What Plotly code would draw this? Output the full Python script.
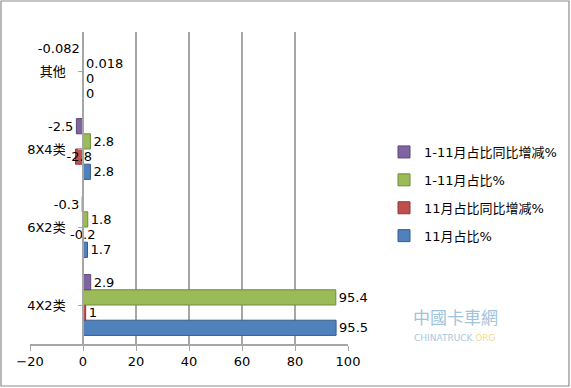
import plotly.graph_objects as go

categories = ["4X2类", "6X2类", "8X4类", "其他"]
series_names = ["11月占比%", "11月占比同比增减%", "1-11月占比%", "1-11月占比同比增减%"]
nov_share = [95.5, 1.7, 2.8, 0]
nov_yoy = [1, -0.2, -2.8, 0]
ytd_share = [95.4, 1.8, 2.8, 0.018]
ytd_yoy = [2.9, -0.3, -2.5, -0.082]
x_ticks = [-20, 0, 20, 40, 60, 80, 100]

colors = ["#4F81BD", "#C0504D", "#9BBB59", "#8064A2"]
edges = ["#385D8A", "#8C3836", "#71893F", "#5C4776"]

W, H = 571, 388
L, R, T, B = 30, 223, 32, 44
pw, ph = W - L - R, H - T - B

font = "DejaVu Sans, Noto Sans CJK SC, sans-serif"
fig = go.Figure()
for i, (name, vals, c, e) in enumerate(zip(series_names, [nov_share, nov_yoy, ytd_share, ytd_yoy], colors, edges)):
    # the "11月占比同比增减%" labels of negative values sit on the bar, as in the reference
    if i == 1:
        tpos = ["inside" if v < 0 else "outside" for v in vals]
    else:
        tpos = "outside"
    fig.add_trace(go.Bar(
        y=categories, x=vals, orientation="h", name=name,
        legendgroup=name, legendrank=10 - i,
        marker=dict(color=c, line=dict(color=e, width=1)),
        text=[str(v) for v in vals], textposition=tpos, textangle=0,
        textfont=dict(size=13, color="black", family=font),
        insidetextfont=dict(size=13, color="black", family=font),
        outsidetextfont=dict(size=13, color="black", family=font),
        constraintext="none", insidetextanchor="middle",
        cliponaxis=False,
    ))

fig.update_layout(
    width=W, height=H,
    margin=dict(l=L, r=R, t=T, b=B, autoexpand=False),
    paper_bgcolor="white", plot_bgcolor="white",
    barmode="group", bargap=0.22, bargroupgap=0,
    font=dict(family=font, size=13, color="black"),
    showlegend=True,
    legend=dict(x=(384 - L) / pw, y=(H - B - 194) / ph, xanchor="left", yanchor="middle",
                traceorder="grouped", tracegroupgap=8,
                font=dict(size=13, family=font), bgcolor="rgba(0,0,0,0)"),
    xaxis=dict(range=[-20, 100], tickvals=x_ticks, showgrid=True, gridcolor="#A6A6A6",
               gridwidth=1.5, zeroline=False, showline=True, linecolor="#A6A6A6",
               linewidth=1.5, ticks="outside", tickcolor="#A6A6A6", ticklen=5,
               tickfont=dict(size=13), automargin=False),
    yaxis=dict(anchor="free", position=(83 - L) / pw, showline=True, linecolor="#A6A6A6",
               linewidth=1.5, ticks="outside", tickcolor="#A6A6A6", ticklen=4,
               ticklabelstandoff=10, automargin=False,
               showgrid=False, zeroline=False, tickfont=dict(size=13),
               categoryorder="array", categoryarray=categories),
    shapes=[dict(type="rect", xref="paper", yref="paper",
                 x0=(1 - L) / pw, x1=(W - 2 - L) / pw,
                 y0=(H - B - (H - 2)) / ph, y1=(H - B - 1) / ph,
                 line=dict(color="#8C8C8C", width=1.2), fillcolor="rgba(0,0,0,0)", layer="below")],
    annotations=[
        dict(text="中國卡車網", x=(455 - L) / pw, y=(H - B - 330) / ph, xref="paper", yref="paper",
             showarrow=False, font=dict(size=17, color="#9FC3DA"), xanchor="center"),
        dict(text="CHINATRUCK<span style='color:#F5DC8C'>.ORG</span>", x=(455 - L) / pw,
             y=(H - B - 345) / ph, xref="paper", yref="paper",
             showarrow=False, font=dict(size=9, color="#A9C8DC"), xanchor="center"),
    ],
)

fig.write_html("out.html", config={"displayModeBar": False},
               post_script="document.body.style.margin='0';document.body.style.overflow='hidden';")
